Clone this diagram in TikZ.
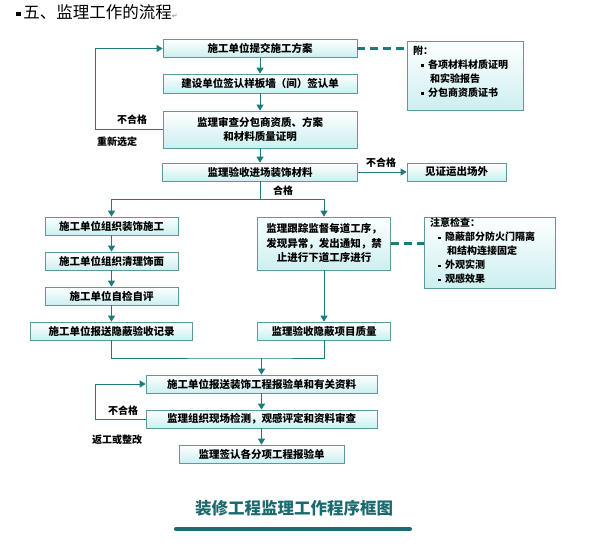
\documentclass[tikz,border=0pt]{standalone}
\usepackage{fontspec}
\setmainfont{Noto Sans CJK SC}
\newfontfamily\symfont{DejaVu Sans}
\usetikzlibrary{arrows.meta}
\definecolor{boxline}{HTML}{5E9A9C}
\definecolor{boxfill}{HTML}{CBEFF0}
\definecolor{tealc}{HTML}{1E7B7C}
\definecolor{capc}{HTML}{1B6B6E}
\newcommand{\sqb}{\rule[0.15em]{0.28em}{0.28em}}
\begin{document}
\begin{tikzpicture}[x=1pt,y=-1pt,
  box/.style={draw=boxline, line width=0.7pt, top color=white, bottom color=boxfill,
    inner sep=0pt, align=center, font=\bfseries\fontsize{10.5}{14.5}\selectfont},
  conn/.style={draw=tealc, line width=0.9pt},
  arr/.style={conn, -{Triangle[width=7pt,length=6pt]}},
  dashc/.style={draw=tealc, line width=2.4pt, dash pattern=on 8pt off 5pt},
  lab/.style={inner sep=0pt, font=\bfseries\fontsize{10}{12}\selectfont},
  notetext/.style={inner sep=0pt, anchor=north west, align=left,
    font=\bfseries\fontsize{10}{14}\selectfont}]
\useasboundingbox (0,0) rectangle (593,545);
% title
\node[anchor=west, inner sep=0pt, font=\fontsize{16.5}{18}\selectfont] (title) at (16,12.5)
  {\sqb\hspace{0.15em}五、监理工作的流程{\symfont\fontsize{7}{8}\selectfont\color{gray}↵}};
% top chain
\node[box, minimum width=194, minimum height=18] (b1) at (260,48.5) {施工单位提交施工方案};
\node[box, minimum width=194, minimum height=19] (b2) at (260,83.5) {建设单位签认样板墙（间）签认单};
\node[box, minimum width=194, minimum height=37] (b3) at (260,129.5) {监理审查分包商资质、方案\\和材料质量证明};
\node[box, minimum width=195, minimum height=18] (b4) at (260,172) {监理验收进场装饰材料};
\node[box, minimum width=99, minimum height=18] (b5) at (456.5,172) {见证运出场外};
% note 1
\node[box, minimum width=116, minimum height=69] (n1) at (465,75.5) {};
\node[notetext] (n1t) at (413,46) {附：\\
  \hspace{0.8em}\sqb\hspace{0.4em}各项材料材质证明\\
  \hspace{1.7em}和实验报告\\
  \hspace{0.8em}\sqb\hspace{0.4em}分包商资质证书};
% left column
\node[box, minimum width=133, minimum height=18] (L1) at (111.5,226) {施工单位组织装饰施工};
\node[box, minimum width=133, minimum height=18] (L2) at (111.5,261) {施工单位组织清理饰面};
\node[box, minimum width=133, minimum height=18] (L3) at (111.5,296) {施工单位自检自评};
\node[box, minimum width=162, minimum height=18] (L4) at (111.5,331) {施工单位报送隐蔽验收记录};
% right column
\node[box, minimum width=133, minimum height=53] (R1) at (324,243.5) {监理跟踪监督每道工序，\\发现异常，发出通知，禁\\止进行下道工序进行};
\node[box, minimum width=133, minimum height=18] (R2) at (324,331) {监理验收隐蔽项目质量};
% note 2
\node[box, minimum width=131, minimum height=71] (n2) at (490,252.5) {};
\node[notetext] (n2t) at (430,218) {注意检查：\\
  \hspace{0.8em}\sqb\hspace{0.4em}隐蔽部分防火门隔离\\
  \hspace{1.7em}和结构连接固定\\
  \hspace{0.8em}\sqb\hspace{0.4em}外观实测\\
  \hspace{0.8em}\sqb\hspace{0.4em}观感效果};
% bottom chain
\node[box, minimum width=231, minimum height=18] (b6) at (261.5,384) {施工单位报送装饰工程报验单和有关资料};
\node[box, minimum width=231, minimum height=18] (b7) at (261.5,419) {监理组织现场检测，观感评定和资料审查};
\node[box, minimum width=165, minimum height=18] (b8) at (261.5,454) {监理签认各分项工程报验单};
% caption
\node[inner sep=0pt, text=capc, font=\bfseries\fontsize{16.5}{18}\selectfont] (cap) at (294,508) {装修工程监理工作程序框图};
\coordinate (barl) at (176,529);
\coordinate (barr) at (410,529);
\draw[capc, line width=4pt, line cap=round] (barl) -- (barr);
% connectors top
\draw[arr] (b1.south) -- (b2.north);
\draw[arr] (b2.south) -- (b3.north);
\draw[arr] (b3.south) -- (b4.north);
\coordinate (lp1) at (95,129.5);
\draw[arr] (b3.west) -- (lp1) |- (b1.west);
\node[lab] (nh1) at (132,120) {不合格};
\node[lab] (cx1) at (117,142) {重新选定};
\draw[dashc] (b1.east) -- (b1.east -| n1.west);
\draw[arr] (b4.east) -- (b5.west);
\node[lab] (nh2) at (381,163) {不合格};
\coordinate (split) at (260,199);
\draw[conn] (b4.south) -- (split);
\draw[arr] (split) -| (L1.north);
\draw[arr] (split) -| (R1.north);
\node[lab] (hg) at (283,191) {合格};
% columns
\draw[arr] (L1.south) -- (L2.north);
\draw[arr] (L2.south) -- (L3.north);
\draw[arr] (L3.south) -- (L4.north);
\draw[arr] (R1.south) -- (R2.north);
\draw[dashc] (R1.east) -- (R1.east -| n2.west);
\coordinate (mg) at (261.5,358);
\draw[conn] (L4.south) |- (mg) -| (R2.south);
\draw[arr] (mg) -- (b6.north);
% bottom
\draw[arr] (b6.south) -- (b7.north);
\draw[arr] (b7.south) -- (b8.north);
\coordinate (lp2) at (95,419);
\draw[arr] (b7.west) -- (lp2) |- (b6.west);
\node[lab] (nh3) at (123,411) {不合格};
\node[lab] (fg) at (117,440) {返工或整改};
\end{tikzpicture}
\end{document}
